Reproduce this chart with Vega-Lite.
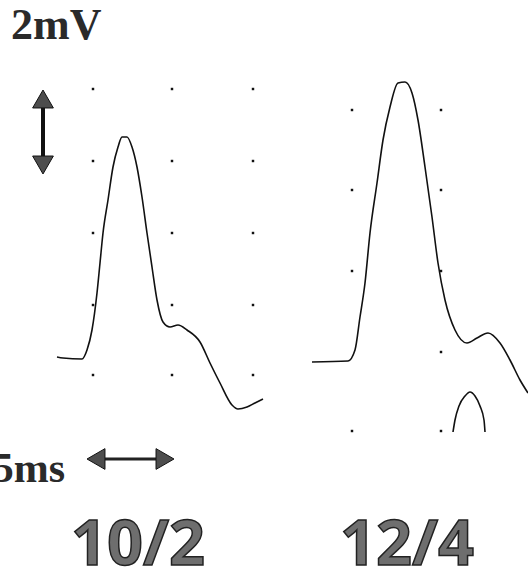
{
  "$schema": "https://vega.github.io/schema/vega-lite/v6.json",
  "width": 528,
  "height": 572,
  "autosize": {"type": "none"},
  "padding": 0,
  "background": "white",
  "config": {"view": {"stroke": null}},
  "datasets": {
    "wave": [
      {"s": "10/2", "i": 0, "x": 57, "y": 357}, {"s": "10/2", "i": 1, "x": 63, "y": 358}, {"s": "10/2", "i": 2, "x": 82, "y": 359},
      {"s": "10/2", "i": 3, "x": 87, "y": 350}, {"s": "10/2", "i": 4, "x": 92, "y": 330}, {"s": "10/2", "i": 5, "x": 97, "y": 293},
      {"s": "10/2", "i": 6, "x": 100, "y": 263}, {"s": "10/2", "i": 7, "x": 103, "y": 233}, {"s": "10/2", "i": 8, "x": 108, "y": 200},
      {"s": "10/2", "i": 9, "x": 113, "y": 167}, {"s": "10/2", "i": 10, "x": 118, "y": 147}, {"s": "10/2", "i": 11, "x": 122, "y": 137},
      {"s": "10/2", "i": 12, "x": 127, "y": 137}, {"s": "10/2", "i": 13, "x": 132, "y": 147}, {"s": "10/2", "i": 14, "x": 137, "y": 167},
      {"s": "10/2", "i": 15, "x": 142, "y": 197}, {"s": "10/2", "i": 16, "x": 147, "y": 233}, {"s": "10/2", "i": 17, "x": 152, "y": 267},
      {"s": "10/2", "i": 18, "x": 157, "y": 300}, {"s": "10/2", "i": 19, "x": 163, "y": 322}, {"s": "10/2", "i": 20, "x": 170, "y": 327},
      {"s": "10/2", "i": 21, "x": 178, "y": 325}, {"s": "10/2", "i": 22, "x": 187, "y": 330}, {"s": "10/2", "i": 23, "x": 200, "y": 342},
      {"s": "10/2", "i": 24, "x": 210, "y": 363}, {"s": "10/2", "i": 25, "x": 220, "y": 383}, {"s": "10/2", "i": 26, "x": 232, "y": 405},
      {"s": "10/2", "i": 27, "x": 238, "y": 409}, {"s": "10/2", "i": 28, "x": 247, "y": 407}, {"s": "10/2", "i": 29, "x": 255, "y": 403},
      {"s": "10/2", "i": 30, "x": 263, "y": 399},
      {"s": "12/4", "i": 0, "x": 312, "y": 362}, {"s": "12/4", "i": 1, "x": 348, "y": 361}, {"s": "12/4", "i": 2, "x": 355, "y": 350},
      {"s": "12/4", "i": 3, "x": 360, "y": 317}, {"s": "12/4", "i": 4, "x": 365, "y": 283}, {"s": "12/4", "i": 5, "x": 370, "y": 233},
      {"s": "12/4", "i": 6, "x": 377, "y": 183}, {"s": "12/4", "i": 7, "x": 383, "y": 140}, {"s": "12/4", "i": 8, "x": 390, "y": 107},
      {"s": "12/4", "i": 9, "x": 398, "y": 83}, {"s": "12/4", "i": 10, "x": 405, "y": 82}, {"s": "12/4", "i": 11, "x": 412, "y": 93},
      {"s": "12/4", "i": 12, "x": 418, "y": 120}, {"s": "12/4", "i": 13, "x": 425, "y": 167}, {"s": "12/4", "i": 14, "x": 432, "y": 217},
      {"s": "12/4", "i": 15, "x": 438, "y": 263}, {"s": "12/4", "i": 16, "x": 445, "y": 300}, {"s": "12/4", "i": 17, "x": 455, "y": 330},
      {"s": "12/4", "i": 18, "x": 467, "y": 343}, {"s": "12/4", "i": 19, "x": 477, "y": 338}, {"s": "12/4", "i": 20, "x": 488, "y": 333},
      {"s": "12/4", "i": 21, "x": 500, "y": 343}, {"s": "12/4", "i": 22, "x": 510, "y": 360}, {"s": "12/4", "i": 23, "x": 520, "y": 380},
      {"s": "12/4", "i": 24, "x": 528, "y": 393},
      {"s": "cap", "i": 0, "x": 453, "y": 432}, {"s": "cap", "i": 1, "x": 455, "y": 420}, {"s": "cap", "i": 2, "x": 459, "y": 406},
      {"s": "cap", "i": 3, "x": 465, "y": 396}, {"s": "cap", "i": 4, "x": 470, "y": 392}, {"s": "cap", "i": 5, "x": 475, "y": 396},
      {"s": "cap", "i": 6, "x": 480, "y": 406}, {"s": "cap", "i": 7, "x": 484, "y": 420}, {"s": "cap", "i": 8, "x": 485, "y": 432}
    ],
    "dots": [
      {"x": 93, "y": 89}, {"x": 172, "y": 89}, {"x": 253, "y": 89},
      {"x": 93, "y": 161}, {"x": 172, "y": 161}, {"x": 253, "y": 161},
      {"x": 93, "y": 233}, {"x": 172, "y": 233}, {"x": 253, "y": 233},
      {"x": 93, "y": 305}, {"x": 172, "y": 305}, {"x": 253, "y": 305},
      {"x": 93, "y": 375}, {"x": 172, "y": 375}, {"x": 253, "y": 375},
      {"x": 352, "y": 110}, {"x": 441, "y": 110},
      {"x": 352, "y": 190}, {"x": 441, "y": 190},
      {"x": 352, "y": 271}, {"x": 441, "y": 271},
      {"x": 441, "y": 352}, {"x": 352, "y": 431}, {"x": 441, "y": 431}
    ],
    "vbar": [{"x": 43, "y": 100}, {"x": 43, "y": 165}],
    "hbar": [{"x": 97, "y": 459}, {"x": 164, "y": 459}],
    "heads": [
      {"x": 43, "y": 99, "shape": "triangle-up"},
      {"x": 43, "y": 165, "shape": "triangle-down"},
      {"x": 96, "y": 459, "shape": "triangle-left"},
      {"x": 165, "y": 459, "shape": "triangle-right"}
    ],
    "serifL": [{"t": "2mV", "x": 11, "y": 39}],
    "serifR": [{"t": "5ms", "x": 65, "y": 482}],
    "sans": [
      {"t": "10/2", "x": 138, "y": 565},
      {"t": "12/4", "x": 407, "y": 565}
    ]
  },
  "encoding": {
    "x": {"field": "x", "type": "quantitative", "scale": {"domain": [0, 528], "nice": false, "zero": false}, "axis": null},
    "y": {"field": "y", "type": "quantitative", "scale": {"domain": [0, 572], "reverse": true, "nice": false, "zero": false}, "axis": null}
  },
  "layer": [
    {
      "data": {"name": "dots"},
      "mark": {"type": "point", "shape": "square", "filled": true, "size": 6, "color": "#111", "opacity": 1}
    },
    {
      "data": {"name": "wave"},
      "mark": {"type": "line", "color": "#111", "strokeWidth": 1.6, "interpolate": "monotone"},
      "encoding": {
        "detail": {"field": "s"},
        "order": {"field": "i", "type": "quantitative"}
      }
    },
    {
      "data": {"name": "vbar"},
      "mark": {"type": "line", "color": "#111", "strokeWidth": 4},
      "encoding": {}
    },
    {
      "data": {"name": "hbar"},
      "mark": {"type": "line", "color": "#222", "strokeWidth": 3},
      "encoding": {}
    },
    {
      "data": {"name": "heads"},
      "mark": {"type": "point", "filled": true, "size": 430, "fill": "#4d4d4d", "stroke": "#111", "strokeWidth": 1, "opacity": 1},
      "encoding": {
        "shape": {"field": "shape", "type": "nominal", "scale": null, "legend": null}
      }
    },
    {
      "data": {"name": "serifL"},
      "mark": {"type": "text", "font": "Liberation Serif", "fontWeight": "bold", "fontSize": 44, "baseline": "alphabetic", "align": "left", "fill": "#2a2a2a"},
      "encoding": {"text": {"field": "t"}}
    },
    {
      "data": {"name": "serifR"},
      "mark": {"type": "text", "font": "Liberation Serif", "fontWeight": "bold", "fontSize": 42, "baseline": "alphabetic", "align": "right", "fill": "#2a2a2a"},
      "encoding": {"text": {"field": "t"}}
    },
    {
      "data": {"name": "sans"},
      "mark": {"type": "text", "font": "Open Sans", "fontWeight": "bold", "fontSize": 63, "baseline": "alphabetic", "align": "center", "fill": "#6e6e6e", "stroke": "#222", "strokeWidth": 1.5},
      "encoding": {"text": {"field": "t"}}
    }
  ]
}
